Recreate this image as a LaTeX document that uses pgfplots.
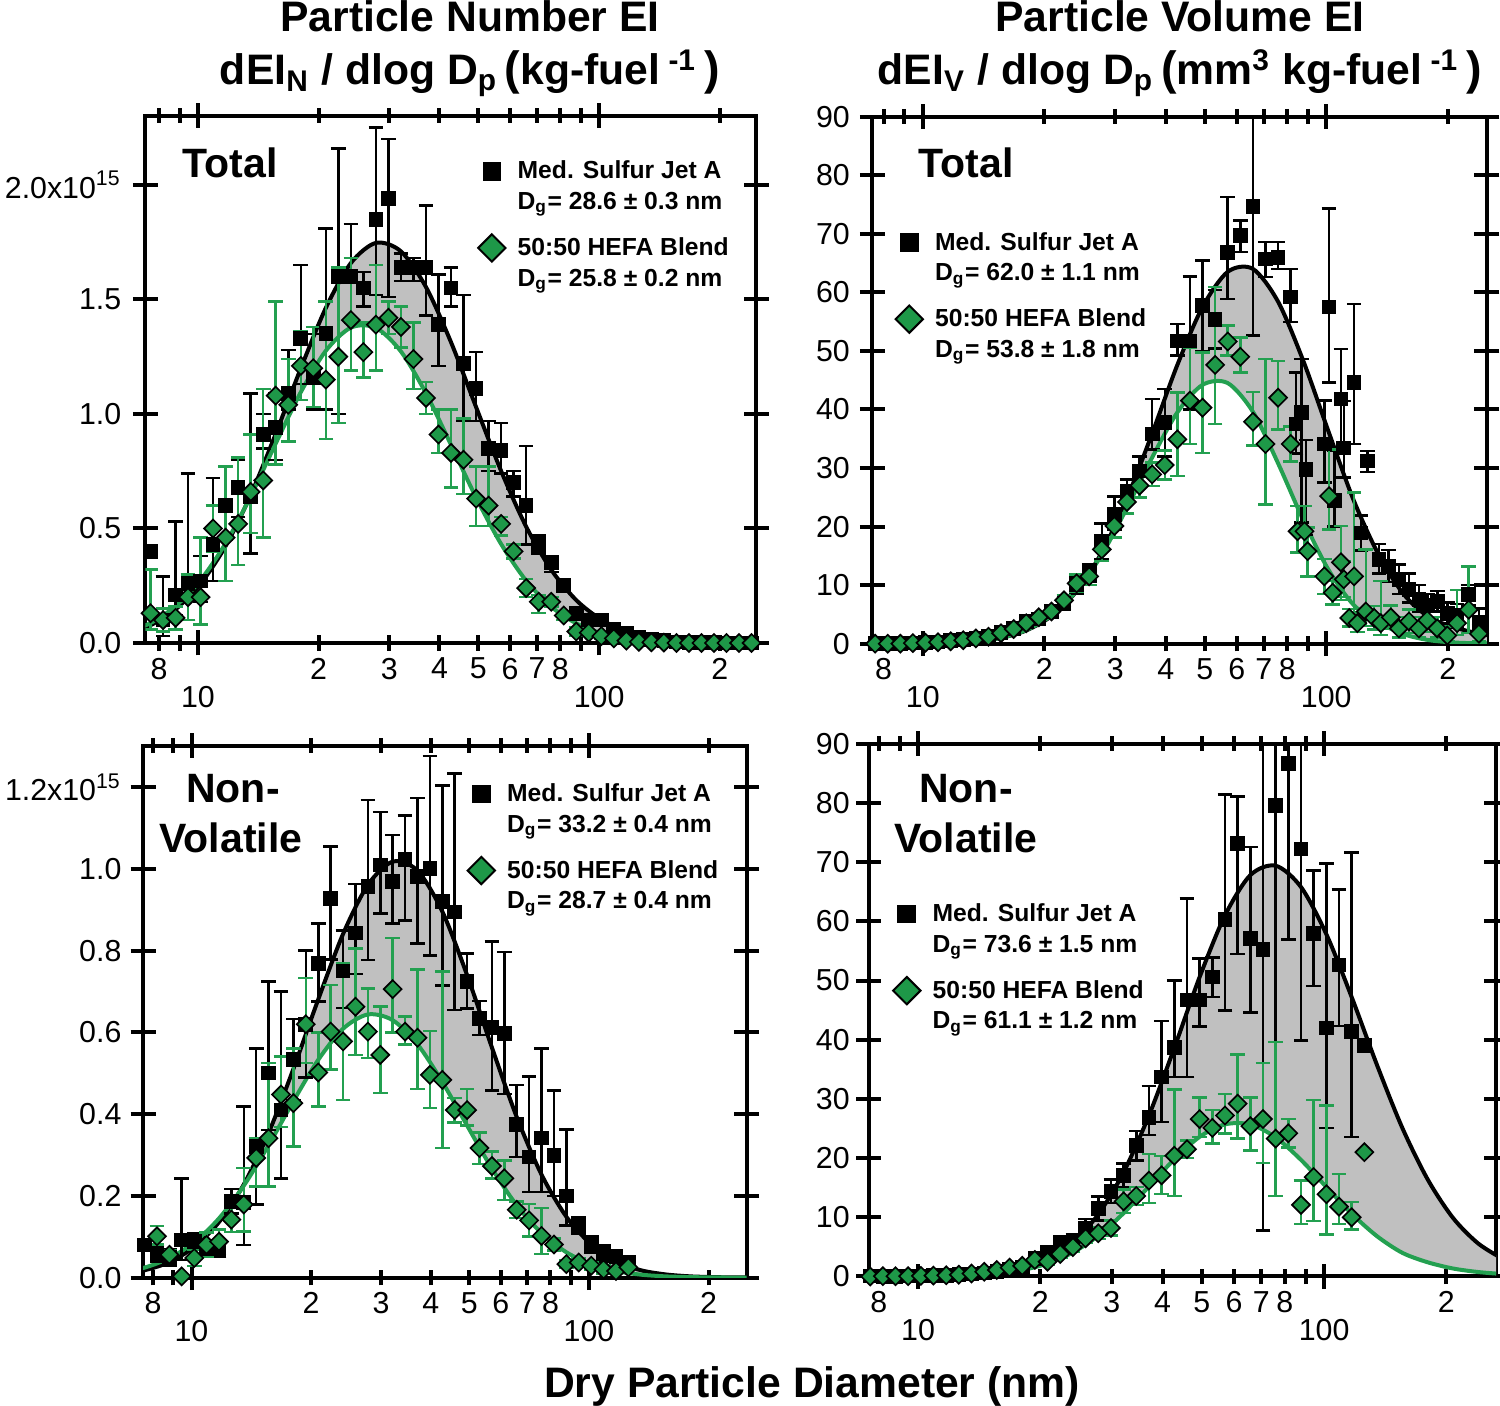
\documentclass[border=0pt]{standalone}
\usepackage{fontspec}
\setmainfont{Liberation Sans}
\usepackage{pgfplots}
\usepackage{pgfplotstable}
\pgfplotsset{compat=1.18}
\usepgfplotslibrary{fillbetween}
\definecolor{grnfill}{RGB}{30,152,72}
\definecolor{grnline}{RGB}{35,160,80}
\definecolor{fillgray}{RGB}{192,192,192}
\newcommand{\tickfont}{\fontsize{9.1}{10.5}\selectfont}
\newcommand{\legfont}{\fontsize{7.4}{9.2}\selectfont\bfseries}
\newcommand{\ttlfont}{\fontsize{12.8}{14}\selectfont\bfseries}
\newcommand{\lblfont}{\fontsize{12.3}{14}\selectfont\bfseries}
\newcommand{\entry}[2]{\begin{tabular}[t]{@{}l@{}}#1\\D\textsubscript{g}= #2 nm\end{tabular}}

% ---------------- fits (x = diameter nm) ----------------
\pgfplotstableread{
x b g
6.60 0.038 0.0436
7.62 0.0775 0.0871
8.80 0.147 0.161
10.16 0.259 0.275
11.73 0.424 0.436
13.54 0.646 0.641
15.63 0.913 0.871
18.05 1.199 1.095
20.84 1.463 1.276
24.06 1.659 1.377
27.78 1.747 1.376
32.07 1.710 1.273
37.03 1.554 1.090
42.75 1.313 0.865
49.36 1.030 0.635
56.99 0.751 0.432
65.79 0.508 0.272
75.96 0.320 0.1585
87.70 0.187 0.0856
101.3 0.1015 0.0428
116.9 0.0512 0.0199
135.0 0.024 0.0085
155.8 0.0105 0.0034
179.9 0.0042 0.0012
207.7 0.0016 0.0004
239.8 0.0005 0.0001
276.9 0.0002 0.0
}\TLf
\pgfplotstableread{
x b g
6.60 0.0 0.0
7.62 0.004 0.0035
8.80 0.015 0.013
10.16 0.048 0.046
11.73 0.144 0.142
13.54 0.395 0.40
15.63 0.988 1.02
18.05 2.26 2.33
20.84 4.71 4.83
24.06 8.97 9.02
27.78 15.6 15.2
32.07 24.8 23.2
37.03 35.9 31.8
42.75 47.6 39.5
49.36 57.5 44.2
56.99 63.5 44.5
65.79 64.0 39.6
75.96 58.4 30.8
87.70 48.3 21.1
101.3 36.2 12.6
116.9 24.5 6.62
135.0 15.1 3.6
155.8 8.38 1.6
179.9 4.5 0.6
207.7 2.8 0.2
239.8 1.7 0.06
276.9 1.0 0.02
}\TRf
\pgfplotstableread{
x b g
6.60 0.0079 0.0115
7.62 0.018 0.0244
8.80 0.038 0.0477
10.16 0.075 0.0864
11.73 0.136 0.145
13.54 0.228 0.225
15.63 0.354 0.324
18.05 0.511 0.432
20.84 0.681 0.533
24.06 0.841 0.609
27.78 0.961 0.644
32.07 1.018 0.630
37.03 0.996 0.571
42.75 0.896 0.479
49.36 0.740 0.372
56.99 0.563 0.267
65.79 0.393 0.177
75.96 0.252 0.109
87.70 0.149 0.062
101.3 0.081 0.0327
116.9 0.040 0.0159
135.0 0.018 0.0072
155.8 0.0078 0.0030
179.9 0.0030 0.0012
207.7 0.0011 0.0004
239.8 0.0004 0.0001
276.9 0.0001 0.0
}\BLf
\pgfplotstableread{
x b g
6.60 0.0007 0.0
7.62 0.0026 0.0025
8.80 0.009 0.0085
10.16 0.029 0.027
11.73 0.086 0.077
13.54 0.234 0.203
15.63 0.592 0.489
18.05 1.37 1.08
20.84 2.94 2.19
24.06 5.80 4.06
27.78 10.5 6.88
32.07 17.6 10.7
37.03 27.2 15.2
42.75 38.6 19.8
49.36 50.6 23.6
56.99 61.0 25.7
65.79 67.8 25.7
75.96 69.4 23.5
87.70 65.8 19.7
101.3 57.8 15.1
116.9 47.2 10.6
135.0 35.7 6.80
155.8 25.1 4.00
179.9 16.4 2.4
207.7 9.89 1.35
239.8 5.55 0.75
276.9 2.89 0.4
}\BRf

% ---------------- data: x y ep em ----------------
\pgfplotstableread{
x y ep em
7.62 0.40 0 0
8.19 0.10 0.19 0.07
8.80 0.21 0.32 0.09
9.45 0.26 0.48 0.16
10.16 0.27 0.11 0.09
10.91 0.43 0.29 0.16
11.73 0.60 0.17 0.15
12.60 0.68 0.12 0.13
13.54 0.64 0.45 0.25
14.55 0.91 0.09 0.06
15.63 0.94 0.15 0.14
16.80 1.09 0.19 0.07
18.05 1.33 0.32 0.20
19.39 1.16 0.19 0.14
20.84 1.35 0.46 0.33
22.39 1.60 0.56 0.60
24.06 1.60 0.23 0.20
25.85 1.55 0.07 0.08
27.78 1.85 0.40 0.33
29.85 1.94 0.26 0.43
32.07 1.64 0.06 0.06
34.46 1.64 0.04 0.06
37.03 1.64 0.27 0.21
39.79 1.39 0.22 0.18
42.75 1.55 0.09 0.08
45.94 1.22 0.30 0.25
49.36 1.11 0.16 0.14
53.04 0.85 0.12 0.10
56.99 0.84 0.12 0.10
61.23 0.70 0.05 0.06
65.79 0.60 0.26 0.17
70.69 0.43 0.04 0.04
75.96 0.35 0.03 0.04
81.62 0.25 0.02 0.02
87.70 0.13 0.02 0.02
94.23 0.10 0.02 0.02
101.3 0.10 0.02 0.02
108.8 0.06 0.02 0.02
116.9 0.04 0.01 0.01
125.6 0.025 0.01 0.01
135.0 0.015 0 0
145.0 0.01 0 0
155.8 0.005 0 0
167.4 0.003 0 0
179.9 0.002 0 0
193.3 0.001 0 0
207.7 0 0 0
223.2 0 0 0
239.8 0 0 0
}\TLb
\pgfplotstableread{
x y ep em
7.62 0.13 0.19 0.07
8.19 0.10 0.05 0.05
8.80 0.11 0.05 0.05
9.45 0.20 0.10 0.10
10.16 0.20 0.26 0.12
10.91 0.50 0.10 0.10
11.73 0.46 0.31 0.19
12.60 0.52 0.29 0.18
13.54 0.66 0.25 0.18
14.55 0.71 0.40 0.25
15.63 1.08 0.41 0.30
16.80 1.04 0.20 0.16
18.05 1.21 0.15 0.15
19.39 1.20 0.18 0.17
20.84 1.15 0.34 0.26
22.39 1.25 0.39 0.29
24.06 1.41 0.27 0.22
25.85 1.27 0.13 0.11
27.78 1.39 0.26 0.20
29.85 1.42 0.07 0.07
32.07 1.38 0.09 0.09
34.46 1.24 0.16 0.13
37.03 1.07 0.07 0.07
39.79 0.91 0.11 0.08
42.75 0.83 0.19 0.15
45.94 0.80 0.18 0.15
49.36 0.63 0.14 0.12
53.04 0.60 0.17 0.09
56.99 0.52 0.03 0.05
61.23 0.40 0.03 0.03
65.79 0.24 0.04 0.04
70.69 0.18 0.03 0.05
75.96 0.18 0.02 0.02
81.62 0.12 0.02 0.02
87.70 0.05 0.02 0.02
94.23 0.045 0.01 0.01
101.3 0.03 0.01 0.01
108.8 0.02 0 0
116.9 0.01 0 0
125.6 0.005 0 0
135.0 0.003 0 0
145.0 0.002 0 0
155.8 0 0 0
167.4 0 0 0
179.9 0 0 0
193.3 0 0 0
207.7 0 0 0
223.2 0 0 0
239.8 0 0 0
}\TLg
\pgfplotstableread{
x y ep em
7.62 0 0 0
8.19 0 0 0
8.80 0 0 0
9.45 0.1 0 0
10.16 0.2 0 0
10.91 0.3 0 0
11.73 0.5 0 0
12.60 0.7 0 0
13.54 1.0 0.2 0.2
14.55 1.3 0.3 0.3
15.63 1.9 0.4 0.4
16.80 2.6 0.5 0.5
18.05 3.8 0.6 0.6
19.39 4.2 0.7 0.7
20.84 5.5 0.8 0.8
22.39 6.9 1.0 1.0
24.06 10.0 1.5 1.5
25.85 12.0 1.5 1.5
27.78 17.5 3.0 3.0
29.85 22.1 3.0 2.6
32.07 26.0 2.0 2.0
34.46 29.5 2.5 2.5
37.03 35.8 6.0 2.6
39.79 37.8 5.7 5.8
42.75 51.7 2.9 2.5
45.94 51.7 11.0 11.7
49.36 57.7 7.7 7.7
53.04 55.4 5.0 5.0
56.99 66.8 9.5 7.9
61.23 69.7 2.6 2.8
65.79 74.6 25.0 22.0
70.69 65.7 2.9 3.1
75.96 66.0 2.6 2.0
81.62 59.2 4.8 4.3
84.1 37.5 8.8 5.0
86.7 39.5 9.1 18.8
89.1 29.8 5.0 11.2
98.9 34.1 7.4 6.6
101.6 57.5 16.8 12.9
104.7 24.4 8.6 4.4
108.7 41.8 8.5 8.4
110.5 33.4 8.0 5.0
117.2 44.6 13.4 10.5
121.9 18.9 3.0 3.0
126.5 31.2 1.7 1.9
135.2 14.4 2.6 2.4
142.7 13.2 2.8 2.7
151.4 11.0 2.5 2.5
160.3 9.3 2.7 2.3
169.7 7.6 2.4 2.1
178.0 6.5 2.0 2.0
188.4 7.2 1.8 1.7
199.5 5.2 1.8 1.7
211.0 4.8 2.0 2.0
225.4 8.4 1.6 1.9
238.9 3.6 2.4 2.1
}\TRb
\pgfplotstableread{
x y ep em
7.62 0 0 0
8.19 0 0 0
8.80 0 0 0
9.45 0.1 0 0
10.16 0.15 0 0
10.91 0.25 0 0
11.73 0.4 0 0
12.60 0.6 0 0
13.54 0.9 0.2 0.2
14.55 1.2 0.3 0.3
15.63 1.8 0.4 0.4
16.80 2.5 0.5 0.5
18.05 3.5 0.6 0.6
19.39 4.5 0.7 0.7
20.84 5.5 0.8 0.8
22.39 7.4 0.9 0.9
24.06 10.3 1.5 1.5
25.85 11.5 1.5 1.5
27.78 16.1 2.0 2.0
29.85 20.1 2.0 2.0
32.07 24.2 2.0 2.0
34.46 27.0 2.0 2.0
37.03 28.9 2.0 2.0
39.79 30.5 2.5 2.5
42.75 34.9 8.0 6.3
45.94 41.5 9.1 7.4
49.36 40.3 9.4 7.7
53.04 47.6 13.3 10.1
56.99 51.6 2.7 2.4
61.23 49.0 3.3 2.7
65.79 37.9 5.1 4.1
70.69 34.1 14.5 10.3
75.96 42.0 6.3 5.4
81.62 34.1 3.0 3.0
84.9 19.2 4.3 3.6
88.3 19.2 4.3 3.6
89.9 15.8 4.0 4.3
98.9 11.5 3.0 3.0
101.6 25.2 8.0 5.7
103.7 8.7 2.0 2.0
108.7 13.9 6.2 6.4
110.5 11.0 3.0 3.0
114.0 4.4 1.5 1.5
117.2 11.5 14.3 6.2
119.4 3.5 1.5 1.5
125.3 5.5 10.6 2.5
131.4 4.4 2.0 2.0
136.5 3.5 7.2 2.0
144.5 4.5 2.0 2.0
151.4 2.6 2.0 1.5
160.3 3.8 2.0 2.0
169.7 2.6 2.0 1.5
177.9 4.0 2.5 2.0
188.4 2.6 2.0 1.5
199.5 1.4 1.5 1.0
211.0 3.5 5.7 2.0
225.4 5.8 7.4 4.0
238.9 1.7 1.5 1.2
}\TRg
\pgfplotstableread{
x y ep em
7.62 0.08 0 0
8.19 0.06 0.02 0.02
8.80 0.05 0.02 0.02
9.45 0.092 0.151 0.049
10.16 0.088 0.02 0.02
10.91 0.072 0.02 0.02
11.73 0.072 0.02 0.02
12.60 0.187 0.03 0.03
13.54 0.183 0.236 0.103
14.55 0.321 0.24 0.142
15.63 0.501 0.224 0.14
16.80 0.41 0.29 0.167
18.05 0.533 0.10 0.10
19.39 0.62 0.18 0.13
20.84 0.769 0.098 0.093
22.39 0.928 0.127 0.15
24.06 0.75 0.10 0.09
25.85 0.843 0.12 0.10
27.78 0.957 0.212 0.18
29.85 1.01 0.13 0.119
32.07 0.969 0.114 0.102
34.46 1.024 0.107 0.15
37.03 0.981 0.193 0.163
39.79 1.002 0.275 0.214
42.75 0.921 0.283 0.206
45.94 0.895 0.339 0.24
49.36 0.724 0.069 0.065
53.04 0.634 0.043 0.04
56.99 0.612 0.21 0.154
61.23 0.597 0.20 0.148
65.79 0.374 0.097 0.079
70.69 0.295 0.197 0.086
75.96 0.342 0.219 0.133
81.62 0.299 0.159 0.099
87.70 0.20 0.163 0.072
94.23 0.128 0.02 0.02
101.3 0.081 0.02 0.02
108.8 0.059 0.02 0.02
116.9 0.051 0.015 0.015
125.6 0.038 0.01 0.01
}\BLb
\pgfplotstableread{
x y ep em
8.19 0.101 0.025 0.02
8.80 0.056 0.01 0.01
9.45 0.003 0 0
10.16 0.048 0.02 0.02
10.91 0.080 0.03 0.03
11.73 0.088 0.03 0.03
12.60 0.142 0.058 0.03
13.54 0.179 0.089 0.066
14.55 0.293 0.048 0.07
15.63 0.341 0.184 0.118
16.80 0.448 0.093 0.079
18.05 0.427 0.134 0.106
19.39 0.62 0.113 0.095
20.84 0.502 0.098 0.083
22.39 0.602 0.114 0.093
24.06 0.578 0.191 0.143
25.85 0.663 0.143 0.118
27.78 0.602 0.106 0.065
29.85 0.545 0.118 0.093
32.07 0.706 0.125 0.106
34.46 0.602 0.037 0.032
37.03 0.587 0.167 0.125
39.79 0.496 0.107 0.081
42.75 0.484 0.265 0.167
45.94 0.41 0.03 0.03
49.36 0.41 0.052 0.038
53.04 0.317 0.038 0.039
56.99 0.273 0.035 0.03
61.23 0.243 0.044 0.053
65.79 0.166 0.02 0.02
70.69 0.14 0.04 0.04
75.96 0.102 0.068 0.044
81.62 0.081 0.015 0.015
87.70 0.033 0.01 0.01
94.23 0.037 0.01 0.01
101.3 0.029 0.01 0.01
108.8 0.020 0.01 0.01
116.9 0.016 0 0
125.6 0.025 0 0
}\BLg
\pgfplotstableread{
x y ep em
7.62 0.1 0 0
8.19 0.05 0 0
8.80 0.05 0 0
9.45 0.1 0 0
10.16 0.1 0 0
10.91 0.15 0 0
11.73 0.2 0 0
12.60 0.3 0 0
13.54 0.4 0 0
14.55 0.6 0 0
15.63 0.8 0 0
16.80 1.2 0 0
18.05 1.6 0.3 0.3
19.39 3.0 0.5 0.5
20.84 4.1 0.6 0.6
22.39 5.8 0.8 0.8
24.06 6.1 1.0 1.0
25.85 8.2 1.5 1.5
27.78 11.5 2.0 2.0
29.85 14.4 2.0 2.0
32.07 17.1 2.0 2.0
34.46 22.1 2.5 2.5
37.03 26.9 5.3 3.0
39.79 33.7 9.5 7.6
42.75 38.7 11.3 5.0
45.94 46.7 17.2 13.0
49.36 46.7 7.0 4.5
53.04 50.6 3.3 3.4
56.99 60.3 21.1 15.4
61.23 73.1 8.0 18.6
65.79 57.1 15.5 12.5
70.69 55.3 40 47.5
75.96 79.6 20 66
81.62 86.7 20 29.8
87.70 72.2 20 32.3
94.23 58.0 10.6 8.9
101.3 42.0 27.8 16.9
108.8 52.6 12.8 10.3
116.9 41.4 30.2 17.8
125.6 39.0 0 0
}\BRb
\pgfplotstableread{
x y ep em
7.62 0 0 0
8.19 0.05 0 0
8.80 0.05 0 0
9.45 0.05 0 0
10.16 0.1 0 0
10.91 0.15 0 0
11.73 0.2 0 0
12.60 0.3 0 0
13.54 0.5 0 0
14.55 0.8 0 0
15.63 1.1 0.2 0.2
16.80 1.5 0.3 0.3
18.05 1.8 0.3 0.3
19.39 2.8 0.5 0.5
20.84 2.5 0.5 0.5
22.39 3.8 0.7 0.7
24.06 4.96 0.7 0.7
25.85 6.45 0.8 0.8
27.78 7.3 1.0 1.0
29.85 8.2 1.3 1.3
32.07 12.7 2.0 2.0
34.46 13.6 1.5 1.5
37.03 16.2 4.5 3.8
39.79 17.1 3.3 3.2
42.75 20.4 11.2 6.8
45.94 21.5 1.5 1.5
49.36 26.6 3.6 3.0
53.04 25.1 3.0 2.6
56.99 27.2 3.6 3.0
61.23 29.2 8.3 5.9
65.79 25.4 4.8 4.1
70.69 26.6 9.5 7.4
75.96 23.3 16.3 9.7
81.62 24.2 2.4 2.4
87.70 12.1 4.1 3.2
94.23 16.8 13.0 7.4
101.3 13.9 15.0 6.8
108.8 11.8 5.5 2.9
116.9 10.0 2.6 2.1
125.6 21.0 0 0
}\BRg

\pgfplotsset{
  every axis/.append style={
    scale only axis, xmode=log,
    axis line style={line width=1.2pt},
    tick style={line width=1.2pt, black},
    tick align=center, major tick length=7.5pt,
    xminorticks=false, yminorticks=false,
    xtick={10,100}, xticklabels={10,100},
    extra x ticks={8,9,20,30,40,50,60,70,80,90,200},
    extra x tick labels={8,{},2,3,4,5,6,7,8,{},2},
    extra x tick style={major tick length=4.6pt, xticklabel style={yshift=6.9pt}},
    xticklabel style={font=\tickfont, inner sep=0pt, anchor=north, yshift=-8.9pt},
    xtick pos=both, ytick pos=both, xticklabel pos=lower, yticklabel pos=left,
    ymin=0,
    legend style={draw=none, fill=none, inner sep=0pt, row sep=4.6pt, column sep=3.65pt,
      font=\legfont, cells={anchor=base west}, nodes={inner sep=0pt, text depth=}},
    legend image post style={yshift=2.3pt},
  },
  blk/.style={only marks, mark=square*, mark size=2pt, black, forget plot,
    error bars/.cd, y dir=both, y explicit,
    error bar style={line width=0.75pt, black},
    error mark options={rotate=90, line width=0.75pt, mark size=2.2pt, black}},
  grd/.style={only marks, mark=square*, mark size=1.9pt,
    mark options={rotate=45, fill=grnfill, draw=black, line width=0.5pt}, forget plot,
    error bars/.cd, y dir=both, y explicit,
    error bar style={line width=0.75pt, grnline},
    error mark options={rotate=90, line width=0.75pt, mark size=2.2pt, grnline}},
  fitb/.style={black, line width=1.2pt, smooth, forget plot},
  fitg/.style={grnline, line width=1.2pt, smooth, forget plot},
}

\begin{document}
\begin{tikzpicture}

% ---------- top left ----------
\begin{axis}[at={(43.62pt,-192.9pt)}, anchor=south west,
  width=183.24pt, height=158.16pt, xmin=7.40, xmax=246.3, ymax=2.302,
  ytick={0,0.5,1,1.5,2}, yticklabels={0.0,0.5,1.0,1.5,{2.0x10\textsuperscript{15}}},
  yticklabel style={font=\tickfont, inner sep=0pt, anchor=east, xshift=-3.3pt},
  legend style={at={(0.5437,0.9222)}, anchor=north west}]
\addplot[draw=none, smooth, name path=b, forget plot] table[x=x,y=b] {\TLf};
\addplot[draw=none, smooth, name path=g, forget plot] table[x=x,y=g] {\TLf};
\addplot[fill=fillgray, draw=none, forget plot] fill between[of=b and g];
\addplot[fitb] table[x=x,y=b] {\TLf};
\addplot[fitg] table[x=x,y=g] {\TLf};
\addplot[blk] table[x=x,y=y,y error plus=ep,y error minus=em] {\TLb};
\addplot[grd] table[x=x,y=y,y error plus=ep,y error minus=em] {\TLg};
\addlegendimage{only marks, mark=square*, mark size=2.6pt, black}
\addlegendentry{\entry{Med. Sulfur Jet A}{28.6 ± 0.3}}
\addlegendimage{only marks, mark=square*, mark size=2.9pt, mark options={rotate=45, fill=grnfill, draw=black, line width=0.6pt}}
\addlegendentry{\entry{50:50 HEFA Blend}{25.8 ± 0.2}}
\end{axis}

% ---------- top right ----------
\begin{axis}[at={(261.69pt,-193.11pt)}, anchor=south west,
  width=184.35pt, height=158.13pt, xmin=7.50, xmax=249.9, ymax=90,
  ytick={0,10,20,30,40,50,60,70,80,90}, yticklabels={0,10,20,30,40,50,60,70,80,90},
  yticklabel style={font=\tickfont, inner sep=0pt, anchor=east, xshift=-2.8pt},
  legend style={at={(0.0368,0.7886)}, anchor=north west}]
\addplot[draw=none, smooth, name path=b, forget plot] table[x=x,y=b] {\TRf};
\addplot[draw=none, smooth, name path=g, forget plot] table[x=x,y=g] {\TRf};
\addplot[fill=fillgray, draw=none, forget plot] fill between[of=b and g];
\addplot[fitb] table[x=x,y=b] {\TRf};
\addplot[fitg] table[x=x,y=g] {\TRf};
\addplot[blk] table[x=x,y=y,y error plus=ep,y error minus=em] {\TRb};
\addplot[grd] table[x=x,y=y,y error plus=ep,y error minus=em] {\TRg};
\addlegendimage{only marks, mark=square*, mark size=2.6pt, black}
\addlegendentry{\entry{Med. Sulfur Jet A}{62.0 ± 1.1}}
\addlegendimage{only marks, mark=square*, mark size=2.9pt, mark options={rotate=45, fill=grnfill, draw=black, line width=0.6pt}}
\addlegendentry{\entry{50:50 HEFA Blend}{53.8 ± 1.8}}
\end{axis}

% ---------- bottom left ----------
\begin{axis}[at={(42.96pt,-383.28pt)}, anchor=south west,
  width=180.99pt, height=159.54pt, xmin=7.56, xmax=249, ymax=1.3015,
  ytick={0,0.2,0.4,0.6,0.8,1.0,1.2}, yticklabels={0.0,0.2,0.4,0.6,0.8,1.0,{1.2x10\textsuperscript{15}}},
  yticklabel style={font=\tickfont, inner sep=0pt, anchor=east, xshift=-2.6pt},
  legend style={at={(0.5367,0.9368)}, anchor=north west}]
\addplot[draw=none, smooth, name path=b, forget plot] table[x=x,y=b] {\BLf};
\addplot[draw=none, smooth, name path=g, forget plot] table[x=x,y=g] {\BLf};
\addplot[fill=fillgray, draw=none, forget plot] fill between[of=b and g];
\addplot[fitb] table[x=x,y=b] {\BLf};
\addplot[fitg] table[x=x,y=g] {\BLf};
\addplot[blk] table[x=x,y=y,y error plus=ep,y error minus=em] {\BLb};
\addplot[grd] table[x=x,y=y,y error plus=ep,y error minus=em] {\BLg};
\addlegendimage{only marks, mark=square*, mark size=2.6pt, black}
\addlegendentry{\entry{Med. Sulfur Jet A}{33.2 ± 0.4}}
\addlegendimage{only marks, mark=square*, mark size=2.9pt, mark options={rotate=45, fill=grnfill, draw=black, line width=0.6pt}}
\addlegendentry{\entry{50:50 HEFA Blend}{28.7 ± 0.4}}
\end{axis}

% ---------- bottom right ----------
\begin{axis}[at={(260.55pt,-382.95pt)}, anchor=south west,
  width=188.25pt, height=159.81pt, xmin=7.55, xmax=265, ymax=90,
  ytick={0,10,20,30,40,50,60,70,80,90}, yticklabels={0,10,20,30,40,50,60,70,80,90},
  yticklabel style={font=\tickfont, inner sep=0pt, anchor=east, xshift=-1.7pt},
  legend style={at={(0.0382,0.7077)}, anchor=north west}]
\addplot[draw=none, smooth, name path=b, forget plot] table[x=x,y=b] {\BRf};
\addplot[draw=none, smooth, name path=g, forget plot] table[x=x,y=g] {\BRf};
\addplot[fill=fillgray, draw=none, forget plot] fill between[of=b and g];
\addplot[fitb] table[x=x,y=b] {\BRf};
\addplot[fitg] table[x=x,y=g] {\BRf};
\addplot[blk] table[x=x,y=y,y error plus=ep,y error minus=em] {\BRb};
\addplot[grd] table[x=x,y=y,y error plus=ep,y error minus=em] {\BRg};
\addlegendimage{only marks, mark=square*, mark size=2.6pt, black}
\addlegendentry{\entry{Med. Sulfur Jet A}{73.6 ± 1.5}}
\addlegendimage{only marks, mark=square*, mark size=2.9pt, mark options={rotate=45, fill=grnfill, draw=black, line width=0.6pt}}
\addlegendentry{\entry{50:50 HEFA Blend}{61.1 ± 1.2}}
\end{axis}

% ---------- texts ----------
\node[anchor=base, font=\ttlfont, inner sep=0pt] at (141pt,-9.6pt) {Particle Number EI};
\node[anchor=base, font=\ttlfont, inner sep=0pt] at (141pt,-25.5pt) {dEI\textsubscript{N} / dlog D\textsubscript{p}\,{\fontsize{14}{14}\selectfont(}kg-fuel\textsuperscript{ -1}{\fontsize{14}{14}\selectfont\,)}};
\node[anchor=base, font=\ttlfont, inner sep=0pt] at (354pt,-9.6pt) {Particle Volume EI};
\node[anchor=base, font=\ttlfont, inner sep=0pt] at (354pt,-25.5pt) {dEI\textsubscript{V} / dlog D\textsubscript{p}\,{\fontsize{14}{14}\selectfont(}mm\textsuperscript{3} kg-fuel\textsuperscript{ -1}{\fontsize{14}{14}\selectfont\,)}};
\node[anchor=base, font=\ttlfont, inner sep=0pt] at (243.6pt,-419.1pt) {Dry Particle Diameter (nm)};
\node[anchor=base west, font=\lblfont, inner sep=0pt] at (54.6pt,-53.4pt) {Total};
\node[anchor=base west, font=\lblfont, inner sep=0pt] at (275.4pt,-53.4pt) {Total};
\node[anchor=base, font=\lblfont, inner sep=0pt] at (69.9pt,-240.9pt) {Non-};
\node[anchor=base, font=\lblfont, inner sep=0pt] at (69.3pt,-255.9pt) {Volatile};
\node[anchor=base, font=\lblfont, inner sep=0pt] at (289.8pt,-240.9pt) {Non-};
\node[anchor=base, font=\lblfont, inner sep=0pt] at (289.8pt,-255.9pt) {Volatile};

\pgfresetboundingbox
\useasboundingbox (0pt,0pt) rectangle (450pt,-421.8pt);
\end{tikzpicture}
\end{document}
